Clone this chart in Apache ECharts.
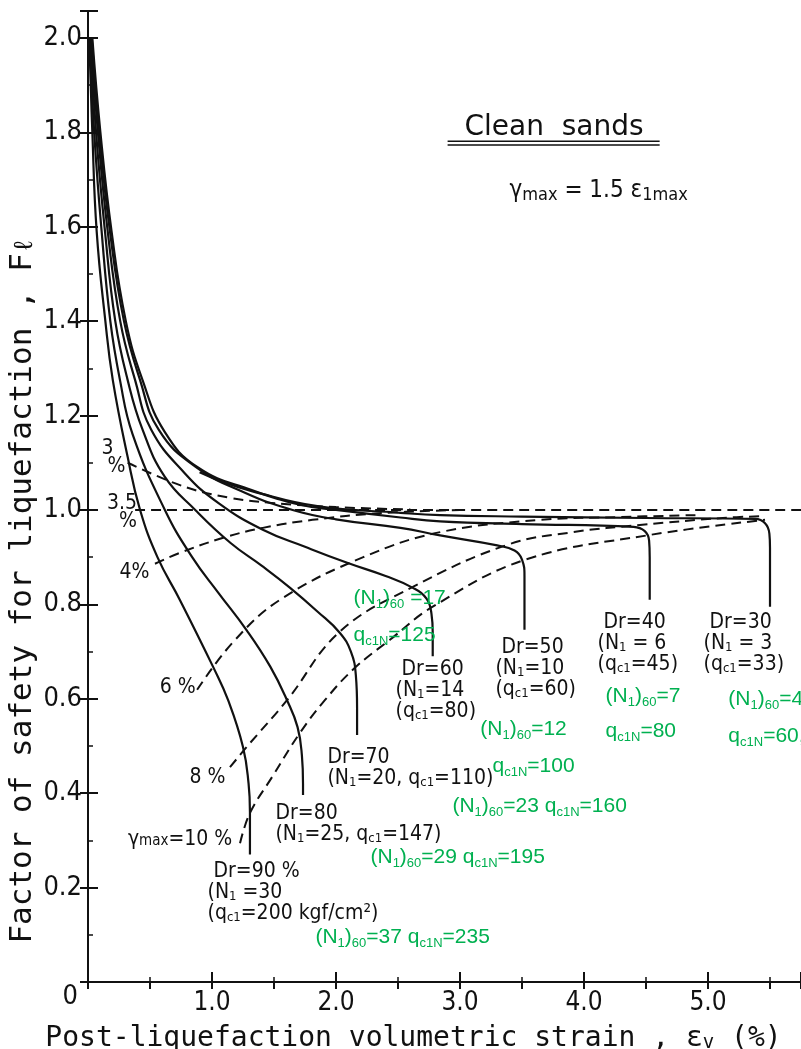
<!DOCTYPE html>
<html><head><meta charset="utf-8">
<script src="https://cdn.jsdelivr.net/npm/echarts@6/dist/echarts.min.js"></script>
<style>html,body{margin:0;padding:0;background:#fff}#c{width:801px;height:1049px}</style>
</head><body><div id="c"></div>
<script>
// ---------- axis ranges & tick labels ----------
const XMAX = 5.75, YMAX = 2.057;
const xTickValues = [1, 2, 3, 4, 5];
const xTickLabels = ['1.0', '2.0', '3.0', '4.0', '5.0'];
const yTickLabels = ['0', '0.2', '0.4', '0.6', '0.8', '1.0', '1.2', '1.4', '1.6', '1.8', '2.0'];

// ---------- Dr curves (solid) ----------
const dr90 = [[0.01,2.0],[0.035,1.8],[0.07,1.59],[0.14,1.4],[0.2,1.275],[0.32,1.112],[0.42,1.0],[0.56,0.9],[0.74,0.81],[1.01,0.667],[1.13,0.597],[1.25,0.498],[1.295,0.42],[1.306,0.36],[1.306,0.27]];
const dr80 = [[0.015,2.0],[0.05,1.8],[0.11,1.59],[0.18,1.4],[0.258,1.275],[0.36,1.16],[0.62,1.0],[0.84,0.9],[1.05,0.825],[1.28,0.745],[1.47,0.668],[1.605,0.597],[1.69,0.54],[1.725,0.48],[1.734,0.42],[1.734,0.396]];
const dr70 = [[0.02,2.0],[0.065,1.8],[0.137,1.59],[0.22,1.4],[0.32,1.275],[0.44,1.17],[0.62,1.07],[0.865,1.0],[1.15,0.93],[1.4,0.882],[1.63,0.835],[1.85,0.785],[2.03,0.74],[2.12,0.7],[2.16,0.65],[2.17,0.58],[2.17,0.523]];
const dr60 = [[0.025,2.0],[0.08,1.8],[0.159,1.59],[0.26,1.4],[0.38,1.275],[0.51,1.17],[0.78,1.078],[1.05,1.015],[1.41,0.958],[1.75,0.922],[2.09,0.888],[2.4,0.86],[2.62,0.835],[2.73,0.812],[2.77,0.78],[2.78,0.74],[2.78,0.69]];
const dr50 = [[0.03,2.0],[0.09,1.8],[0.177,1.59],[0.29,1.4],[0.42,1.275],[0.57,1.17],[0.86,1.093],[1.27,1.036],[1.65,1.0],[2.0,0.98],[2.52,0.962],[2.84,0.946],[3.3,0.925],[3.44,0.914],[3.5,0.895],[3.52,0.86],[3.52,0.746]];
const dr40 = [[0.035,2.0],[0.1,1.8],[0.19,1.59],[0.305,1.4],[0.44,1.275],[0.62,1.165],[0.887,1.09],[1.32,1.042],[1.73,1.01],[2.0,1.0],[2.52,0.984],[2.84,0.976],[3.5,0.97],[4.4,0.964],[4.49,0.955],[4.525,0.935],[4.53,0.9],[4.53,0.81]];
const dr30 = [[0.9,1.08],[1.1,1.058],[1.32,1.04],[1.85,1.008],[2.52,0.994],[2.84,0.989],[3.5,0.986],[4.5,0.983],[5.38,0.981],[5.46,0.972],[5.495,0.95],[5.5,0.92],[5.5,0.795]];

// ---------- gamma_max contours (dashed) ----------
const g3  = [[0.32,1.1],[0.78,1.049],[1.16,1.025],[1.48,1.015],[2.0,1.006],[2.6,1.001]];
const g35 = [[0.38,1.0],[5.75,1.0]];
const g4  = [[0.54,0.886],[0.74,0.909],[1.09,0.941],[1.41,0.962],[1.81,0.979],[2.35,0.993],[3.0,1.0]];
const g6  = [[0.88,0.619],[1.17,0.72],[1.55,0.81],[2.22,0.9],[2.84,0.953],[3.65,0.979],[4.29,0.985],[4.9,0.989]];
const g8  = [[1.145,0.455],[1.28,0.498],[1.605,0.597],[2.03,0.742],[2.62,0.837],[3.38,0.926],[3.91,0.953],[4.45,0.968],[5.12,0.983],[5.46,0.987]];
const g10 = [[1.226,0.294],[1.306,0.358],[1.484,0.434],[1.71,0.528],[1.91,0.597],[2.15,0.665],[2.435,0.725],[2.78,0.795],[3.52,0.894],[4.53,0.947],[5.46,0.979]];

// ---------- annotations (text, x, y in data units) ----------
const titleLabels = [['Clean  sands', 3.758, 1.809]];
const titleUnderline1 = [[2.9,1.781],[4.61,1.781]];
const titleUnderline2 = [[2.9,1.773],[4.61,1.773]];
const formulaLabels = [['γ{s|max} = 1.5 ε{s|1max}', 3.395, 1.676]];
const gammaLabels = [
  ['3\n %', 0.105, 1.11],
  ['3.5\n  %', 0.15, 0.995],
  ['4%', 0.25, 0.868],
  ['6 %', 0.575, 0.624],
  ['8 %', 0.815, 0.433],
  ['γ{s|max}=10 %', 0.318, 0.302]
];
const drLabels = [
  [' Dr=90 %\n(N{s|1} =30\n(q{s|c1}=200 kgf/cm²)', 0.96, 0.189],
  ['Dr=80\n(N{s|1}=25, q{s|c1}=147)', 1.508, 0.335],
  ['Dr=70\n(N{s|1}=20, q{s|c1}=110)', 1.927, 0.454],
  [' Dr=60\n(N{s|1}=14\n(q{s|c1}=80)', 2.476, 0.617],
  [' Dr=50\n(N{s|1}=10\n(q{s|c1}=60)', 3.282, 0.663],
  [' Dr=40\n(N{s|1} = 6\n(q{s|c1}=45)', 4.105, 0.716],
  [' Dr=30\n(N{s|1} = 3\n(q{s|c1}=33)', 4.96, 0.716]
];
const greenLabels = [
  ['(N{s|1}){s|60} =17', 2.137, 0.814],
  ['q{s|c1N}=125', 2.137, 0.735],
  ['(N{s|1}){s|60}=12', 3.16, 0.536],
  ['q{s|c1N}=100', 3.258, 0.458],
  ['(N{s|1}){s|60}=23 q{s|c1N}=160', 2.935, 0.373],
  ['(N{s|1}){s|60}=29 q{s|c1N}=195', 2.274, 0.265],
  ['(N{s|1}){s|60}=37 q{s|c1N}=235', 1.83, 0.095],
  ['(N{s|1}){s|60}=7', 4.17, 0.606],
  ['q{s|c1N}=80', 4.17, 0.532],
  ['(N{s|1}){s|60}=4', 5.16, 0.6],
  ['q{s|c1N}=60,', 5.16, 0.521]
];

const INK = '#111111';
const GREEN = '#00b050';
const FONT = '"DejaVu Sans Condensed","Liberation Sans Narrow","DejaVu Sans",sans-serif';
const WIDE = '"DejaVu Sans",sans-serif';
const MONO = '"DejaVu Sans Mono","Liberation Mono",monospace';
const ARIAL = '"Liberation Sans",Arial,sans-serif';

function solid(d) {
  return {type:'line', data:d, smooth:0.45, symbol:'none', silent:true, z:3,
    lineStyle:{color:INK, width:2.2}};
}
function dashed(d) {
  return {type:'line', data:d, smooth:0.4, symbol:'none', silent:true, z:2,
    lineStyle:{color:INK, width:2, type:[10,6]}};
}
function labels(arr, style, position) {
  return {type:'scatter', symbolSize:1, silent:true, clip:false, z:10,
    itemStyle:{color:'#ffffff', opacity:1},
    data: arr.map(a => ({value:[a[1], a[2]], label:{formatter:a[0]}})),
    label: Object.assign({show:true, position:position || 'right', distance:0, opacity:1}, style)};
}

const chart = echarts.init(document.getElementById('c'), null, {renderer:'canvas'});
chart.setOption({
  animation:false,
  backgroundColor:'#fff',
  grid:{left:88, right:0, top:11, bottom:67, containLabel:false, outerBoundsMode:'none'},
  xAxis:[{
    type:'value', min:0, max:XMAX, interval:1, position:'bottom',
    axisLine:{show:true, lineStyle:{color:INK, width:2}},
    axisTick:{show:true, inside:true, length:10, lineStyle:{color:INK, width:2}},
    minorTick:{show:true, splitNumber:2, length:5, lineStyle:{color:INK, width:1.5}},
    splitLine:{show:false},
    axisLabel:{color:INK, fontSize:26, fontFamily:FONT, margin:8, showMaxLabel:false,
      formatter:v => { const i = xTickValues.findIndex(t => Math.abs(t - v) < 1e-6); return i >= 0 ? xTickLabels[i] : ''; }},
    name:'Post-liquefaction volumetric strain , ε{s|v} (%)',
    nameLocation:'middle', nameGap:43,
    nameTextStyle:{color:INK, fontSize:28, fontFamily:MONO, padding:[0,62,0,0],
      rich:{s:{fontSize:19, fontFamily:MONO, color:INK, verticalAlign:'bottom', lineHeight:18}}}
  },{
    type:'value', min:0, max:XMAX, interval:0.5, position:'top',
    axisLine:{show:true, lineStyle:{color:INK, width:2}},
    axisTick:{show:true, inside:true, length:7, lineStyle:{color:INK, width:2}},
    axisLabel:{show:false}, splitLine:{show:false}
  }],
  yAxis:[{
    type:'value', min:0, max:YMAX, interval:0.2, position:'left',
    axisLine:{show:true, lineStyle:{color:INK, width:2}},
    axisTick:{show:true, inside:true, length:10, lineStyle:{color:INK, width:2}},
    minorTick:{show:true, splitNumber:2, length:5, lineStyle:{color:INK, width:1.5}},
    splitLine:{show:false},
    axisLabel:{color:INK, fontSize:27, fontFamily:FONT, margin:6, showMaxLabel:false,
      formatter:v => { const i = Math.round(v / 0.2); if (Math.abs(v - i * 0.2) > 1e-6) return ''; return i === 0 ? '{z|' + yTickLabels[0] + '}' : yTickLabels[i]; },
      rich:{z:{fontSize:27, fontFamily:FONT, color:INK, padding:[30,4,0,0]}}},
    name:'Factor of safety for liquefaction , F{s|ℓ}',
    nameLocation:'middle', nameRotate:90, nameGap:50, nameMoveOverlap:false,
    nameTextStyle:{color:INK, fontSize:31, fontFamily:MONO, padding:[0,188,0,0],
      rich:{s:{fontSize:26, fontFamily:MONO, color:INK, verticalAlign:'bottom', lineHeight:26}}}
  },{
    type:'value', min:0, max:YMAX, interval:0.2, position:'right',
    axisLine:{show:true, lineStyle:{color:INK, width:2}},
    axisTick:{show:true, inside:true, length:8, lineStyle:{color:INK, width:2}},
    axisLabel:{show:false}, splitLine:{show:false}
  }],
  series:[
    solid(dr90), solid(dr80), solid(dr70), solid(dr60), solid(dr50), solid(dr40), solid(dr30),
    dashed(g3), dashed(g35), dashed(g4), dashed(g6), dashed(g8), dashed(g10),
    {type:'line', data:titleUnderline1, symbol:'none', silent:true, lineStyle:{color:INK, width:1.5}},
    {type:'line', data:titleUnderline2, symbol:'none', silent:true, lineStyle:{color:INK, width:1.5}},
    labels(titleLabels, {color:INK, fontSize:28, fontFamily:WIDE}, 'inside'),
    labels(formulaLabels, {color:INK, fontSize:24, fontFamily:FONT, lineHeight:26,
      rich:{s:{fontSize:18, fontFamily:FONT, color:INK, verticalAlign:'bottom', lineHeight:18}}}),
    labels(gammaLabels, {color:INK, fontSize:21, fontFamily:FONT, lineHeight:18,
      rich:{s:{fontSize:15, fontFamily:FONT, color:INK, verticalAlign:'bottom', lineHeight:14}}}),
    labels(drLabels, {color:INK, fontSize:21, fontFamily:FONT, lineHeight:21,
      rich:{s:{fontSize:13, fontFamily:FONT, color:INK, verticalAlign:'bottom', lineHeight:13}}}),
    labels(greenLabels, {color:GREEN, fontSize:21, fontFamily:ARIAL, lineHeight:26,
      rich:{s:{fontSize:13, fontFamily:ARIAL, color:GREEN, verticalAlign:'bottom', lineHeight:13}}})
  ]
});
</script></body></html>
